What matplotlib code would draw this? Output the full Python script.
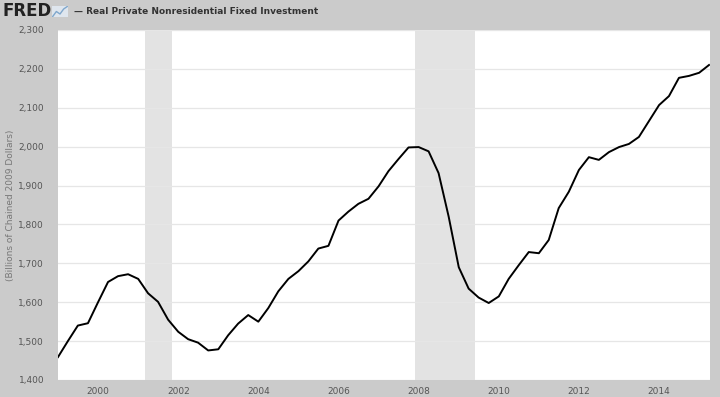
import pandas as pd
import matplotlib.pyplot as plt

quarters = pd.date_range("1999-01-01", "2015-04-01", freq="QS")
values = [1459, 1500, 1540, 1546, 1600, 1652, 1667, 1672,
          1660, 1623, 1601, 1555, 1524, 1505, 1496, 1476,
          1479, 1515, 1545, 1567, 1550, 1585, 1628, 1660,
          1680, 1705, 1738, 1745, 1810, 1833, 1853, 1866,
          1898, 1937, 1968, 1998, 1999, 1988, 1932, 1820,
          1690, 1635, 1612, 1598, 1615, 1660, 1695, 1729,
          1726, 1760, 1842, 1884, 1940, 1973, 1966, 1986,
          1999, 2007, 2025, 2066, 2107, 2130, 2177, 2182,
          2190, 2210]
recessions = [("2001-03-01", "2001-11-01"), ("2007-12-01", "2009-06-01")]
yticks = list(range(1400, 2301, 100))
xtick_years = list(range(2000, 2015, 2))

bg = "#cbcbcb"
fig = plt.figure(figsize=(7.2, 3.97), dpi=100, facecolor=bg)
ax = fig.add_axes([58 / 720, 1 - 380 / 397, 652 / 720, 350 / 397])
ax.set_facecolor("white")

for start, end in recessions:
    ax.axvspan(pd.Timestamp(start), pd.Timestamp(end), color="#e3e3e3", lw=0, zorder=1)

ax.plot(quarters, values, color="black", lw=1.4, zorder=3)

ax.set_ylim(1400, 2300)
ax.set_xlim(pd.Timestamp("1999-01-01"), pd.Timestamp("2015-04-10"))
ax.set_yticks(yticks)
ax.set_yticklabels([f"{v:,}" for v in yticks])
ax.set_xticks([pd.Timestamp(f"{y}-01-01") for y in xtick_years])
ax.set_xticklabels([str(y) for y in xtick_years])
ax.grid(axis="y", color="#e6e6e6", lw=0.9, zorder=0)
ax.tick_params(length=0, labelsize=6.5, labelcolor="#555555", pad=10)
ax.tick_params(axis="x", pad=5)
for s in ax.spines.values():
    s.set_visible(False)

ax.set_ylabel("(Billions of Chained 2009 Dollars)", fontsize=6.5, color="#777777")
ax.yaxis.set_label_coords(-0.066, 0.5)

fig.text(0.004, 0.972, "FRED", fontsize=12, fontweight="bold", color="#222222", va="center")
icon = fig.add_axes([52 / 720, 1 - 17 / 397, 16 / 720, 11 / 397])
icon.plot([0, 1, 2, 3, 4], [0, 2, 1, 3, 4], color="#7fa7cc", lw=1)
icon.set_facecolor("#dfe6ee")
icon.set_xticks([])
icon.set_yticks([])
for s in icon.spines.values():
    s.set_visible(False)
fig.text(74 / 720, 0.972, "\u2014 Real Private Nonresidential Fixed Investment",
         fontsize=6.5, fontweight="bold", color="#333333", va="center")

fig.savefig("out.png", dpi=100, facecolor=bg)
